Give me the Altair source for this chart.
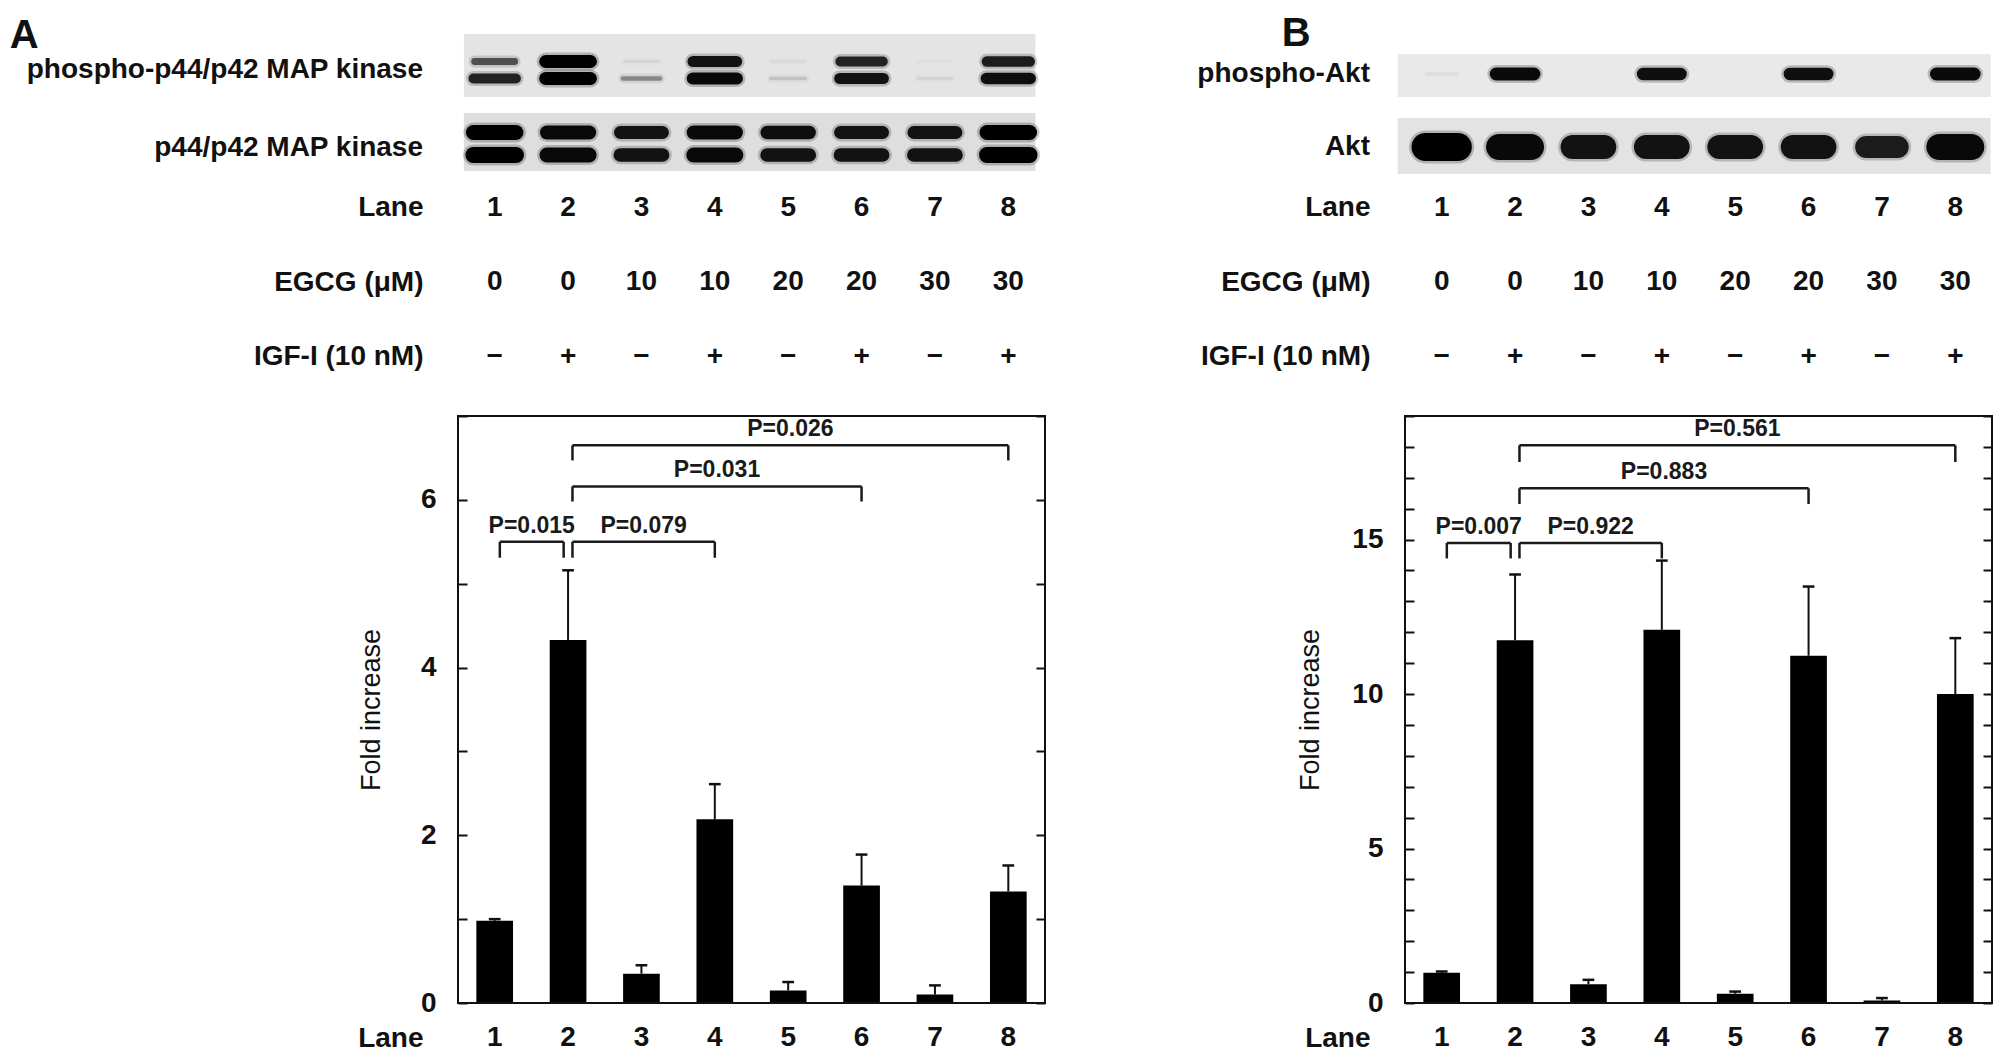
import altair as alt
import pandas as pd

# ---------------- data ----------------
LANES = [1, 2, 3, 4, 5, 6, 7, 8]
EGCG_UM = [0, 0, 10, 10, 20, 20, 30, 30]
IGF_I = ["−", "+", "−", "+", "−", "+", "−", "+"]

# Panel A: phospho-p44/p42 MAPK, fold increase (mean, mean + SD)
A_MEAN = [0.98, 4.33, 0.35, 2.19, 0.15, 1.40, 0.10, 1.33]
A_UPPER = [1.00, 5.16, 0.45, 2.61, 0.25, 1.77, 0.21, 1.64]
A_P_FROM = [1.07, 2.06, 2.06, 2.06]
A_P_TO = [1.94, 4.0, 6.0, 8.0]
A_P_Y = [5.50, 5.50, 6.16, 6.65]
A_P_LEG = [5.31, 5.31, 5.98, 6.47]
A_P_TEXT = ["P=0.015", "P=0.079", "P=0.031", "P=0.026"]

# Panel B: phospho-Akt, fold increase (mean, mean + SD)
B_MEAN = [0.98, 11.74, 0.61, 12.08, 0.30, 11.24, 0.08, 10.00]
B_UPPER = [1.02, 13.87, 0.75, 14.32, 0.37, 13.48, 0.16, 11.81]
B_P_FROM = [1.07, 2.06, 2.06, 2.06]
B_P_TO = [1.94, 4.0, 6.0, 8.0]
B_P_Y = [14.89, 14.89, 16.66, 18.05]
B_P_LEG = [14.39, 14.39, 16.15, 17.51]
B_P_TEXT = ["P=0.007", "P=0.922", "P=0.883", "P=0.561"]

# Western blot band intensities (0 = absent, 1 = saturated), per lane
PERK_UPPER = [0.60, 1.00, 0.05, 0.90, 0.03, 0.82, 0.02, 0.85]
PERK_LOWER = [0.82, 1.00, 0.35, 0.95, 0.12, 0.90, 0.06, 0.92]
ERK_UPPER = [1.00, 0.95, 0.90, 0.95, 0.92, 0.90, 0.90, 1.00]
ERK_LOWER = [1.00, 0.95, 0.90, 0.95, 0.90, 0.90, 0.90, 1.00]
PAKT = [0.04, 0.95, 0.0, 0.92, 0.0, 0.92, 0.0, 0.95]
AKT = [1.00, 0.95, 0.90, 0.90, 0.90, 0.90, 0.85, 0.95]

# ---------------- styling / layout ----------------
INK = "#111111"
BAR = "#000000"
FONT = "Liberation Sans"
W = 587
BLOT_H = 155
LAB_H = 221
AX_H = 50
ROWS = ["Lane", "EGCG (μM)", "IGF-I (10 nM)"]
X_MIN, X_MAX = 0.5, 8.5

XS = alt.Scale(domain=[X_MIN, X_MAX], nice=False, zero=False)
BYS = alt.Scale(domain=[0, BLOT_H], nice=False, zero=False, reverse=True)

# blot layout (lane units horizontally, membrane units vertically from top)
BLOTS_A = [
    dict(name="phospho-p44/p42 MAP kinase", x0=0.58, x1=8.37, y0=14, y1=77, fill="#e4e4e4",
         label_y=50, bands=[(PERK_UPPER, 41.5, 13, 0.45, 0.16), (PERK_LOWER, 58.5, 13, 0.45, 0.16)]),
    dict(name="p44/p42 MAP kinase", x0=0.58, x1=8.37, y0=93, y1=151, fill="#dedede",
         label_y=128, bands=[(ERK_UPPER, 112.5, 15, 0.52, 0.06), (ERK_LOWER, 135, 16, 0.52, 0.06)]),
]
BLOTS_B = [
    dict(name="phospho-Akt", x0=0.40, x1=8.48, y0=34, y1=77, fill="#e9e9e9",
         label_y=54, bands=[(PAKT, 54, 14, 0.40, 0.12)]),
    dict(name="Akt", x0=0.40, x1=8.48, y0=98, y1=154, fill="#e3e3e3",
         label_y=127, bands=[(AKT, 127, 28, 0.36, 0.08)]),
]


def row_axis():
    return alt.Axis(title=None, ticks=False, domain=False, grid=False, labelPadding=35,
                    labelFont=FONT, labelFontSize=28, labelFontWeight="bold",
                    labelColor=INK, labelLimit=500)


def blot_chart(letter, letter_x, letter_y, blots):
    bg = pd.DataFrame([dict(x0=b["x0"], x1=b["x1"], y0=b["y0"], y1=b["y1"], fill=b["fill"]) for b in blots])
    rows = []
    for b in blots:
        for vals, cy, tmax, l0, l1 in b["bands"]:
            for lane, s in zip(LANES, vals):
                if s <= 0:
                    continue
                half = (l0 + l1 * s) / 2
                thick = tmax * (0.25 + 0.75 * s * s)
                rows.append(dict(xa=lane - half, xb=lane + half, y=cy, thick=thick,
                                 op=min(1.0, s), halo=thick + 5, hop=0.22 * s))
    bands = pd.DataFrame(rows)
    labels = pd.DataFrame([dict(name=b["name"], y=b["label_y"], x=X_MIN) for b in blots])
    let = pd.DataFrame([dict(t=letter, x=letter_x, y=letter_y)])

    bgl = alt.Chart(bg).mark_rect().encode(
        x=alt.X("x0:Q", scale=XS, axis=None), x2="x1:Q",
        y=alt.Y("y0:Q", scale=BYS, axis=None), y2="y1:Q",
        color=alt.Color("fill:N", scale=None))
    halo = alt.Chart(bands).mark_rule(color="black", strokeCap="round").encode(
        x=alt.X("xa:Q", scale=XS, axis=None), x2="xb:Q",
        y=alt.Y("y:Q", scale=BYS, axis=None),
        size=alt.Size("halo:Q", scale=None),
        opacity=alt.Opacity("hop:Q", scale=None))
    core = alt.Chart(bands).mark_rule(color="black", strokeCap="round").encode(
        x=alt.X("xa:Q", scale=XS, axis=None), x2="xb:Q",
        y=alt.Y("y:Q", scale=BYS, axis=None),
        size=alt.Size("thick:Q", scale=None),
        opacity=alt.Opacity("op:Q", scale=None))
    lab = alt.Chart(labels).mark_text(align="right", baseline="middle", dx=-35, font=FONT,
                                      fontSize=28, fontWeight="bold", color=INK).encode(
        x=alt.X("x:Q", scale=XS, axis=None),
        y=alt.Y("y:Q", scale=BYS, axis=None),
        text="name:N")
    lt = alt.Chart(let).mark_text(align="left", baseline="middle", font=FONT, fontSize=40,
                                  fontWeight="bold", color=INK).encode(
        x=alt.X("x:Q", scale=XS, axis=None),
        y=alt.Y("y:Q", scale=BYS, axis=None),
        text="t:N")
    return alt.layer(bgl, halo, core, lab, lt).properties(width=W, height=BLOT_H)


def label_chart():
    rows = []
    for lane, e, g in zip(LANES, EGCG_UM, IGF_I):
        rows.append(dict(lane=lane, row=ROWS[0], t=str(lane)))
        rows.append(dict(lane=lane, row=ROWS[1], t=str(e)))
        rows.append(dict(lane=lane, row=ROWS[2], t=g))
    df = pd.DataFrame(rows)
    return alt.Chart(df).mark_text(font=FONT, fontSize=28, fontWeight="bold", color=INK,
                                   baseline="middle").encode(
        x=alt.X("lane:Q", scale=XS, axis=None),
        y=alt.Y("row:N",
                scale=alt.Scale(type="point", domain=ROWS, padding=0.483, align=0.319),
                axis=row_axis()),
        text="t:N").properties(width=W, height=LAB_H)


def lane_axis_chart():
    df = pd.DataFrame({"lane": LANES, "row": ["Lane"] * len(LANES), "t": [str(v) for v in LANES]})
    return alt.Chart(df).mark_text(font=FONT, fontSize=28, fontWeight="bold", color=INK,
                                   baseline="middle").encode(
        x=alt.X("lane:Q", scale=XS, axis=None),
        y=alt.Y("row:N", scale=alt.Scale(type="point", domain=["Lane"], padding=0.5),
                axis=row_axis()),
        text="t:N").properties(width=W, height=AX_H)


def bar_chart(mean, upper, ymax, label_vals, p_from, p_to, p_y, p_leg, p_text, title_pad):
    df = pd.DataFrame({"lane": LANES, "mean": mean, "upper": upper})
    ys = alt.Scale(domain=[0, ymax], nice=False, zero=True)
    tick_vals = list(range(0, ymax + 1))
    yaxis = alt.Axis(values=label_vals, ticks=False, domain=False, grid=False,
                     labelFont=FONT, labelFontSize=28, labelFontWeight="bold", labelColor=INK,
                     labelPadding=22, title="Fold increase", titleFont=FONT, titleFontSize=27,
                     titleFontWeight="normal", titleColor=INK, titlePadding=title_pad)
    tickaxis_l = alt.Axis(orient="right", offset=-W, values=tick_vals, labels=False, ticks=True,
                          tickSize=9, tickWidth=2, tickColor=INK, domain=False, grid=False, title=None)
    tickaxis_r = alt.Axis(orient="left", offset=-W, values=tick_vals, labels=False, ticks=True,
                          tickSize=9, tickWidth=2, tickColor=INK, domain=False, grid=False, title=None)

    base = alt.Chart(df)
    bars = base.transform_calculate(
        xa="datum.lane - 0.25", xb="datum.lane + 0.25", base0="0"
    ).mark_rect(color=BAR).encode(
        x=alt.X("xa:Q", scale=XS, axis=None), x2="xb:Q",
        y=alt.Y("mean:Q", scale=ys, axis=yaxis), y2="base0:Q")
    err = base.mark_rule(color=INK, strokeWidth=2).encode(
        x=alt.X("lane:Q", scale=XS, axis=None),
        y=alt.Y("mean:Q", scale=ys, axis=tickaxis_l), y2="upper:Q")
    caps = base.transform_calculate(xa="datum.lane - 0.08", xb="datum.lane + 0.08").mark_rule(
        color=INK, strokeWidth=2.5).encode(
        x=alt.X("xa:Q", scale=XS, axis=None), x2="xb:Q",
        y=alt.Y("upper:Q", scale=ys, axis=tickaxis_r))

    frame_df = pd.DataFrame({"x0": [X_MIN], "x1": [X_MAX], "y0": [0], "y1": [ymax]})
    frame = alt.Chart(frame_df).mark_rect(fillOpacity=0, stroke=INK, strokeWidth=2).encode(
        x=alt.X("x0:Q", scale=XS, axis=None), x2="x1:Q",
        y=alt.Y("y0:Q", scale=ys, axis=None), y2="y1:Q")

    br = pd.DataFrame({"x1": p_from, "x2": p_to, "y": p_y, "leg": p_leg, "t": p_text})
    legs = pd.DataFrame({"x": p_from + p_to, "y": p_y + p_y, "leg": p_leg + p_leg})
    hseg = alt.Chart(br).mark_rule(color="#1a1a1a", strokeWidth=2.5).encode(
        x=alt.X("x1:Q", scale=XS, axis=None), x2="x2:Q",
        y=alt.Y("y:Q", scale=ys, axis=None))
    vseg = alt.Chart(legs).mark_rule(color="#1a1a1a", strokeWidth=2.5).encode(
        x=alt.X("x:Q", scale=XS, axis=None),
        y=alt.Y("y:Q", scale=ys, axis=None), y2="leg:Q")
    ptxt = alt.Chart(br).transform_calculate(xm="(datum.x1 + datum.x2) / 2").mark_text(
        baseline="bottom", dy=-4, font=FONT, fontSize=23, fontWeight="bold", color="#1a1a1a").encode(
        x=alt.X("xm:Q", scale=XS, axis=None),
        y=alt.Y("y:Q", scale=ys, axis=None),
        text="t:N")

    return alt.layer(bars, err, caps, frame, hseg, vseg, ptxt).resolve_scale(
        y="independent").properties(width=W, height=W)


blotA = blot_chart("A", -5.61, 16, BLOTS_A)
blotB = blot_chart("B", -1.18, 14, BLOTS_B)
barA = bar_chart(A_MEAN, A_UPPER, 7, [0, 2, 4, 6], A_P_FROM, A_P_TO, A_P_Y, A_P_LEG, A_P_TEXT, 35)
barB = bar_chart(B_MEAN, B_UPPER, 19, [0, 5, 10, 15], B_P_FROM, B_P_TO, B_P_Y, B_P_LEG, B_P_TEXT, 27)

chart = alt.concat(
    blotA, blotB,
    label_chart(), label_chart(),
    barA, barB,
    lane_axis_chart(), lane_axis_chart(),
    columns=2, bounds="flush", spacing={"row": 10, "column": 360},
).properties(
    padding={"left": 1, "top": 5, "right": 5, "bottom": 2},
    background="white",
).configure_view(stroke="transparent")

chart.save("out.html", embed_options={"renderer": "svg", "actions": False})
